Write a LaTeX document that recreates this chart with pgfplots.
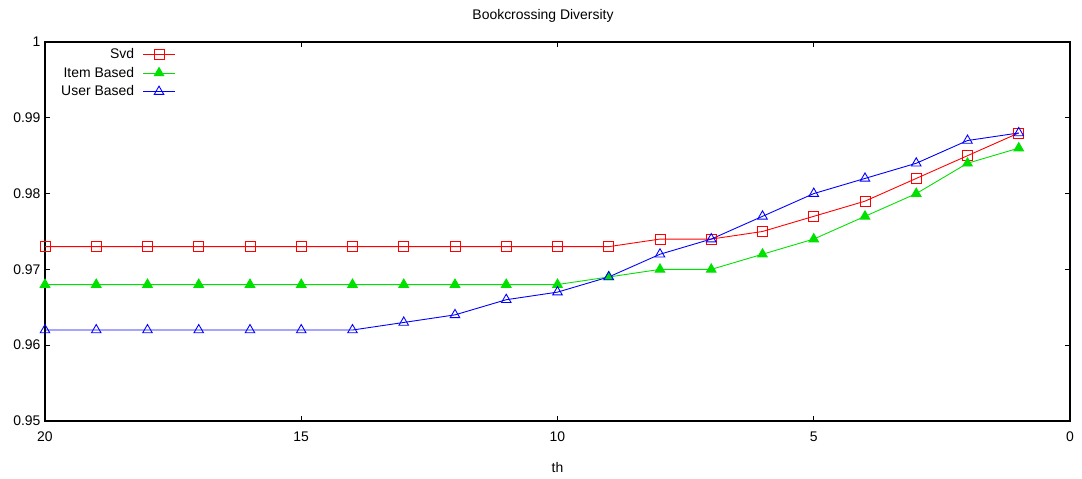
\documentclass[border=0pt]{standalone}
\usepackage{pgfplots}
\pgfplotsset{compat=1.18}
\usepackage{fontspec}
\setmainfont{Liberation Sans}
\definecolor{itemgreen}{RGB}{0,225,0}
\begin{document}
\begin{tikzpicture}[x=1bp,y=1bp]
\useasboundingbox (0,0) rectangle (1082,479);
\begin{axis}[
  at={(45bp,58bp)}, anchor=south west,
  scale only axis, width=1025bp, height=379bp,
  x dir=reverse,
  xmin=0, xmax=20, ymin=0.95, ymax=1,
  xtick={0,5,10,15,20},
  ytick={0.95,0.96,0.97,0.98,0.99,1},
  tick align=inside,
  major tick length=5bp,
  tick style={black, line width=0.7pt},
  axis line style={black, line width=1.1pt},
  yticklabel style={/pgf/number format/fixed,/pgf/number format/precision=2, xshift=-1bp},
  /pgf/number format/assume math mode=true,
  tick label style={font=\fontsize{14}{16}\selectfont},
  xticklabel style={yshift=-7bp},
  xlabel={th},
  xlabel style={font=\fontsize{14}{16}\selectfont, yshift=-14bp},
  legend style={at={(0.1275,0.987)}, anchor=north east, draw=none, fill=none,
    font=\fontsize{14}{16}\selectfont, row sep=4bp, inner sep=0pt,
    nodes={inner sep=1.5bp},
    /tikz/column 1/.style={column sep=7bp}},
  legend cell align=right,
  legend plot pos=right,
  legend image code/.code={
    \draw[#1, mark=none] (0bp,0bp) -- (32bp,0bp);
    \draw[#1, only marks] plot coordinates {(16bp,0bp)};
  },
]
\addplot[red, line width=0.9pt, mark=square, mark size=5bp, mark options={solid}] coordinates {
(20,0.973)(19,0.973)(18,0.973)(17,0.973)(16,0.973)(15,0.973)(14,0.973)(13,0.973)(12,0.973)(11,0.973)(10,0.973)(9,0.973)(8,0.974)(7,0.974)(6,0.975)(5,0.977)(4,0.979)(3,0.982)(2,0.985)(1,0.988)};
\addlegendentry{Svd}
\addplot[itemgreen, line width=0.9pt, mark=triangle*, mark size=5.5bp] coordinates {
(20,0.968)(19,0.968)(18,0.968)(17,0.968)(16,0.968)(15,0.968)(14,0.968)(13,0.968)(12,0.968)(11,0.968)(10,0.968)(9,0.969)(8,0.970)(7,0.970)(6,0.972)(5,0.974)(4,0.977)(3,0.980)(2,0.984)(1,0.986)};
\addlegendentry{Item Based}
\addplot[blue, line width=0.9pt, mark=triangle, mark size=5.5bp] coordinates {
(20,0.962)(19,0.962)(18,0.962)(17,0.962)(16,0.962)(15,0.962)(14,0.962)(13,0.963)(12,0.964)(11,0.966)(10,0.967)(9,0.969)(8,0.972)(7,0.974)(6,0.977)(5,0.980)(4,0.982)(3,0.984)(2,0.987)(1,0.988)};
\addlegendentry{User Based}
\end{axis}
\node[font=\fontsize{14}{16}\selectfont] at (543,463) {Bookcrossing Diversity};
\end{tikzpicture}
\end{document}
